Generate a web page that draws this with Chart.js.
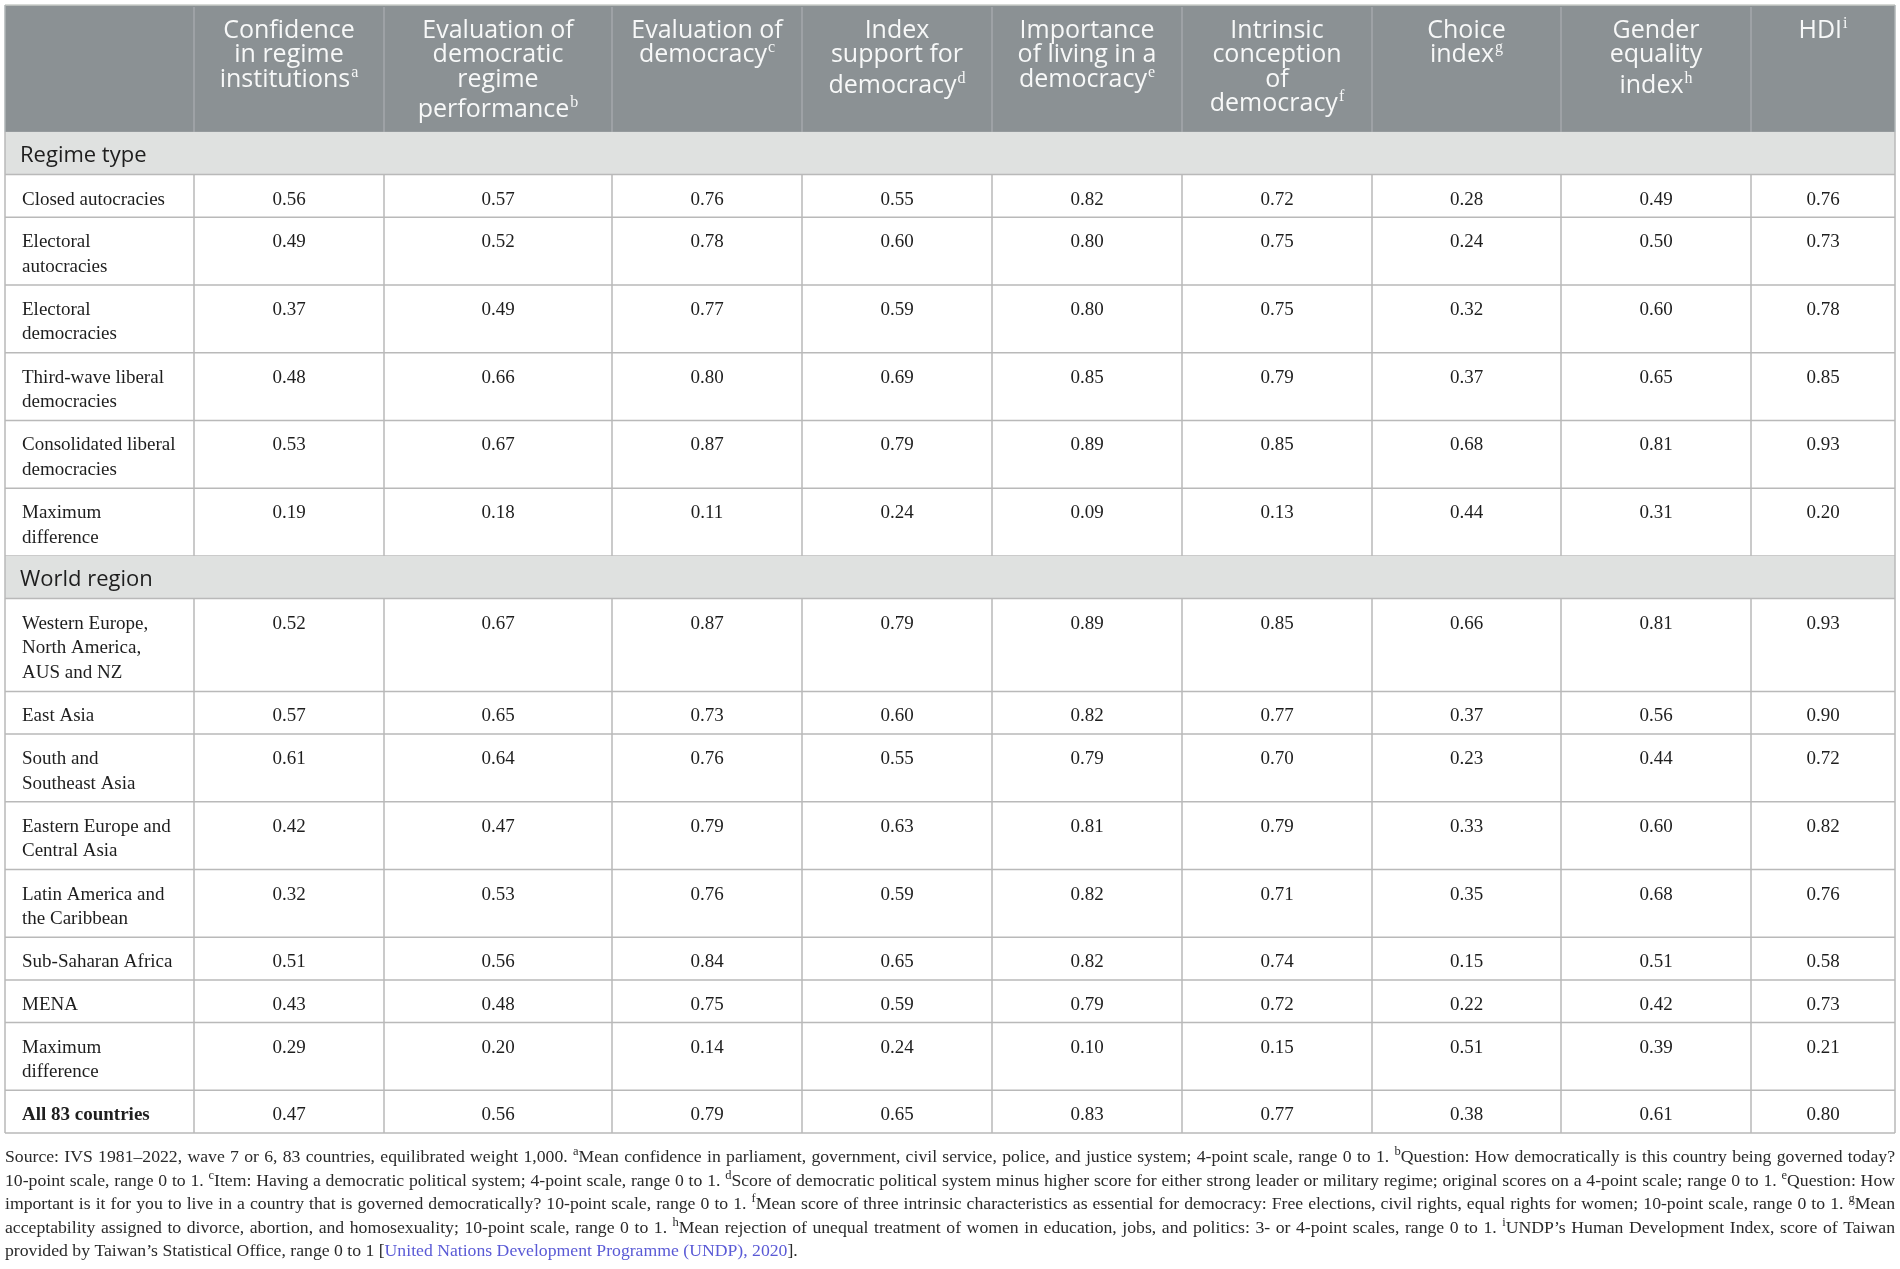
<!DOCTYPE html>
<html>
<head>
<meta charset="utf-8">
<script src="https://cdn.jsdelivr.net/npm/chart.js@4.4.0/dist/chart.umd.min.js"></script>
<style>
  html, body { margin: 0; padding: 0; background: #fff; }
  #wrap { position: relative; width: 1900px; height: 1269px; }
</style>
</head>
<body>
<div id="wrap"><canvas id="tbl"></canvas></div>
<script>
// column headings (lines as printed), footnote mark goes after the last line
const headings = [
  ['Confidence', 'in regime', 'institutions'],
  ['Evaluation of', 'democratic', 'regime', 'performance'],
  ['Evaluation of', 'democracy'],
  ['Index', 'support for', 'democracy'],
  ['Importance', 'of living in a', 'democracy'],
  ['Intrinsic', 'conception', 'of', 'democracy'],
  ['Choice', 'index'],
  ['Gender', 'equality', 'index'],
  ['HDI']
];
const headingNotes = ['a', 'b', 'c', 'd', 'e', 'f', 'g', 'h', 'i'];
const sectionTitles = ['Regime type', 'World region'];
const regimeLabels = [
  'Closed autocracies', ['Electoral', 'autocracies'], ['Electoral', 'democracies'],
  ['Third-wave liberal', 'democracies'], ['Consolidated liberal', 'democracies'], ['Maximum', 'difference']
];
const regionLabels = [
  ['Western Europe,', 'North America,', 'AUS and NZ'], 'East Asia', ['South and', 'Southeast Asia'],
  ['Eastern Europe and', 'Central Asia'], ['Latin America and', 'the Caribbean'], 'Sub-Saharan Africa',
  'MENA', ['Maximum', 'difference']
];
const totalLabel = 'All 83 countries';

// one array per column: 6 regime rows, 8 region rows, then all countries
const confidence   = [0.56, 0.49, 0.37, 0.48, 0.53, 0.19, 0.52, 0.57, 0.61, 0.42, 0.32, 0.51, 0.43, 0.29, 0.47];
const performance  = [0.57, 0.52, 0.49, 0.66, 0.67, 0.18, 0.67, 0.65, 0.64, 0.47, 0.53, 0.56, 0.48, 0.20, 0.56];
const evalDemocracy= [0.76, 0.78, 0.77, 0.80, 0.87, 0.11, 0.87, 0.73, 0.76, 0.79, 0.76, 0.84, 0.75, 0.14, 0.79];
const supportIndex = [0.55, 0.60, 0.59, 0.69, 0.79, 0.24, 0.79, 0.60, 0.55, 0.63, 0.59, 0.65, 0.59, 0.24, 0.65];
const importance   = [0.82, 0.80, 0.80, 0.85, 0.89, 0.09, 0.89, 0.82, 0.79, 0.81, 0.82, 0.82, 0.79, 0.10, 0.83];
const intrinsic    = [0.72, 0.75, 0.75, 0.79, 0.85, 0.13, 0.85, 0.77, 0.70, 0.79, 0.71, 0.74, 0.72, 0.15, 0.77];
const choiceIndex  = [0.28, 0.24, 0.32, 0.37, 0.68, 0.44, 0.66, 0.37, 0.23, 0.33, 0.35, 0.15, 0.22, 0.51, 0.38];
const genderIndex  = [0.49, 0.50, 0.60, 0.65, 0.81, 0.31, 0.81, 0.56, 0.44, 0.60, 0.68, 0.51, 0.42, 0.39, 0.61];
const hdi          = [0.76, 0.73, 0.78, 0.85, 0.93, 0.20, 0.93, 0.90, 0.72, 0.82, 0.76, 0.58, 0.73, 0.21, 0.80];
const series = [confidence, performance, evalDemocracy, supportIndex, importance, intrinsic, choiceIndex, genderIndex, hdi];

// ^x = superscript mark, {...} = link text
const footLines = [
  'Source: IVS 1981–2022, wave 7 or 6, 83 countries, equilibrated weight 1,000. ^aMean confidence in parliament, government, civil service, police, and justice system; 4-point scale, range 0 to 1. ^bQuestion: How democratically is this country being governed today?',
  '10-point scale, range 0 to 1. ^cItem: Having a democratic political system; 4-point scale, range 0 to 1. ^dScore of democratic political system minus higher score for either strong leader or military regime; original scores on a 4-point scale; range 0 to 1. ^eQuestion: How',
  'important is it for you to live in a country that is governed democratically? 10-point scale, range 0 to 1. ^fMean score of three intrinsic characteristics as essential for democracy: Free elections, civil rights, equal rights for women; 10-point scale, range 0 to 1. ^gMean',
  'acceptability assigned to divorce, abortion, and homosexuality; 10-point scale, range 0 to 1. ^hMean rejection of unequal treatment of women in education, jobs, and politics: 3- or 4-point scales, range 0 to 1. ^iUNDP’s Human Development Index, score of Taiwan',
  'provided by Taiwan’s Statistical Office, range 0 to 1 [{United Nations Development Programme (UNDP), 2020}].'
];

// ---- layout (not data) ----
const colWidths = [189, 190, 228, 190, 190, 190, 190, 189, 190, 144];
const colEdges = [0];
colWidths.forEach(function(w, i) { colEdges.push(colEdges[i] + w); });
const LINE = 25, PAD = 17.5, HEAD_H = 126.5;
const SERIF = '"Liberation Serif", "Times New Roman", serif';
const SANS = '"Open Sans", "Noto Sans", sans-serif';
const HEAD_FONT = '25px ' + SANS, HEAD_SUP = '16px ' + SERIF;

const rows = [];
let yu = HEAD_H;
function addSection(text) { rows.push({kind: 'section', text: text, top: yu}); yu += PAD + LINE; }
function addRow(label, idx, bold) {
  const lines = Array.isArray(label) ? label : [label];
  rows.push({kind: 'row', lines: lines, idx: idx, bold: bold, top: yu});
  yu += PAD + LINE * lines.length;
}
addSection(sectionTitles[0]);
regimeLabels.forEach(function(l, i) { addRow(l, i, false); });
addSection(sectionTitles[1]);
regionLabels.forEach(function(l, i) { addRow(l, regimeLabels.length + i, false); });
addRow(totalLabel, regimeLabels.length + regionLabels.length, true);
const totalH = yu;

const points = [];
rows.forEach(function(r) {
  if (r.kind !== 'row') return;
  series.forEach(function(s, c) {
    points.push({x: (colEdges[c + 1] + colEdges[c + 2]) / 2, y: r.top, v: s[r.idx]});
  });
});

function drawFootLine(ctx, str, x0, x1, y, justify) {
  const words = [];
  let word = [], link = false, i = 0;
  function push(t, kind) {
    if (!t) return;
    const last = word[word.length - 1];
    if (last && last.kind === kind) last.t += t; else word.push({t: t, kind: kind});
  }
  while (i < str.length) {
    const ch = str[i];
    if (ch === ' ') { if (word.length) words.push(word); word = []; }
    else if (ch === '^') { push(str[i + 1], 'sup'); i++; }
    else if (ch === '{') link = true;
    else if (ch === '}') link = false;
    else push(ch, link ? 'link' : 'text');
    i++;
  }
  if (word.length) words.push(word);
  function font(kind) { return kind === 'sup' ? '12.5px ' + SERIF : '17.7px ' + SERIF; }
  function segW(g) { ctx.font = font(g.kind); return ctx.measureText(g.t).width; }
  const widths = words.map(function(w) { return w.reduce(function(s, g) { return s + segW(g); }, 0); });
  const total = widths.reduce(function(a, b) { return a + b; }, 0);
  ctx.font = font('text');
  const gap = justify ? (x1 - x0 - total) / (words.length - 1) : ctx.measureText(' ').width;
  let x = x0;
  ctx.textAlign = 'left';
  words.forEach(function(w) {
    w.forEach(function(g) {
      ctx.font = font(g.kind);
      ctx.fillStyle = g.kind === 'link' ? '#5a5ad6' : '#2a2a2a';
      ctx.fillText(g.t, x, y - (g.kind === 'sup' ? 7 : 0));
      x += ctx.measureText(g.t).width;
    });
    x += gap;
  });
}

const tablePlugin = {
  id: 'tableDraw',
  beforeDatasetsDraw: function(chart) {
    const ctx = chart.ctx, sx = chart.scales.x, sy = chart.scales.y;
    const left = sx.getPixelForValue(0), right = sx.getPixelForValue(colEdges[colEdges.length - 1]);
    const top = sy.getPixelForValue(0), headBottom = sy.getPixelForValue(HEAD_H), bottom = sy.getPixelForValue(totalH);
    ctx.save();
    // header band
    ctx.fillStyle = '#8b9194';
    ctx.fillRect(left, top, right - left, headBottom - top);
    ctx.strokeStyle = '#a4a9ac';
    ctx.lineWidth = 1.5;
    for (let c = 1; c < colEdges.length - 1; c++) {
      const x = sx.getPixelForValue(colEdges[c]);
      ctx.beginPath(); ctx.moveTo(x, top + 2); ctx.lineTo(x, headBottom); ctx.stroke();
    }
    ctx.strokeStyle = '#c9cdc9';
    ctx.beginPath(); ctx.moveTo(left, top); ctx.lineTo(right, top); ctx.stroke();
    // body rows
    ctx.strokeStyle = '#b9b9b9';
    rows.forEach(function(r) {
      const y0 = sy.getPixelForValue(r.top);
      const h = r.kind === 'section' ? PAD + LINE : PAD + LINE * r.lines.length;
      const y1 = sy.getPixelForValue(r.top + h);
      if (r.kind === 'section') {
        ctx.fillStyle = '#dfe1e0';
        ctx.fillRect(left, y0, right - left, y1 - y0);
      } else {
        for (let c = 1; c < colEdges.length - 1; c++) {
          const x = sx.getPixelForValue(colEdges[c]);
          ctx.beginPath(); ctx.moveTo(x, y0); ctx.lineTo(x, y1); ctx.stroke();
        }
      }
      ctx.beginPath(); ctx.moveTo(left, y1); ctx.lineTo(right, y1); ctx.stroke();
    });
    ctx.beginPath();
    ctx.moveTo(left, headBottom); ctx.lineTo(left, bottom);
    ctx.moveTo(right, headBottom); ctx.lineTo(right, bottom);
    ctx.stroke();
    ctx.strokeStyle = '#b0b5b7';
    ctx.beginPath();
    ctx.moveTo(left, top); ctx.lineTo(left, headBottom);
    ctx.moveTo(right, top); ctx.lineTo(right, headBottom);
    ctx.stroke();
    ctx.restore();
  },
  afterDatasetsDraw: function(chart) {
    const ctx = chart.ctx, sx = chart.scales.x, sy = chart.scales.y;
    const left = sx.getPixelForValue(0);
    const top = sy.getPixelForValue(0);
    ctx.save();
    ctx.textBaseline = 'alphabetic';
    // headings
    headings.forEach(function(lines, c) {
      const cx = (sx.getPixelForValue(colEdges[c + 1]) + sx.getPixelForValue(colEdges[c + 2])) / 2;
      const note = headingNotes[c];
      lines.forEach(function(t, li) {
        const isLast = li === lines.length - 1;
        let y = top + 33 + li * 24.3;
        if (isLast && li > 0 && 'bdh'.indexOf(note) >= 0) y += 6.5;
        ctx.font = HEAD_FONT;
        const w = ctx.measureText(t).width;
        let sw = 0;
        if (isLast) { ctx.font = HEAD_SUP; sw = ctx.measureText(note).width + 1; }
        const x0 = cx - (w + sw) / 2;
        ctx.fillStyle = '#f7f8f8';
        ctx.textAlign = 'left';
        ctx.font = HEAD_FONT;
        ctx.fillText(t, x0, y);
        if (isLast) { ctx.font = HEAD_SUP; ctx.fillText(note, x0 + w + 1, y - 10); }
      });
    });
    // sections and row labels
    rows.forEach(function(r) {
      const y0 = sy.getPixelForValue(r.top);
      ctx.textAlign = 'left';
      if (r.kind === 'section') {
        ctx.font = '22px ' + SANS;
        ctx.fillStyle = '#1e1e1e';
        ctx.fillText(r.text, left + 15, y0 + 30.5);
      } else {
        ctx.font = (r.bold ? 'bold ' : '') + '19px ' + SERIF;
        ctx.fillStyle = '#1e1e1e';
        r.lines.forEach(function(t, li) { ctx.fillText(t, left + 17, y0 + 30 + li * 24.5); });
      }
    });
    // values at the scatter points
    const meta = chart.getDatasetMeta(0);
    const data = chart.data.datasets[0].data;
    ctx.font = '19px ' + SERIF;
    ctx.fillStyle = '#1e1e1e';
    ctx.textAlign = 'center';
    meta.data.forEach(function(pt, i) {
      ctx.fillText(data[i].v.toFixed(2), pt.x, pt.y + 30);
    });
    // footnote
    const fx0 = left, fx1 = sx.getPixelForValue(colEdges[colEdges.length - 1]);
    const fy = sy.getPixelForValue(totalH) + 29;
    footLines.forEach(function(l, i) {
      drawFootLine(ctx, l, fx0, fx1, fy + i * 23.5, i < footLines.length - 1);
    });
    ctx.restore();
  }
};

new Chart(document.getElementById('tbl'), {
  type: 'scatter',
  data: {
    datasets: [{
      data: points,
      pointRadius: 0,
      pointHoverRadius: 0,
      backgroundColor: 'rgba(0,0,0,0)'
    }]
  },
  options: {
    responsive: true,
    maintainAspectRatio: false,
    animation: false,
    events: [],
    layout: {padding: {left: 5, right: 5, top: 5, bottom: 136}},
    scales: {
      x: {type: 'linear', display: false, min: 0, max: colEdges[colEdges.length - 1]},
      y: {type: 'linear', display: false, min: 0, max: totalH, reverse: true}
    },
    plugins: {legend: {display: false}, tooltip: {enabled: false}}
  },
  plugins: [tablePlugin]
});
</script>
</body>
</html>
